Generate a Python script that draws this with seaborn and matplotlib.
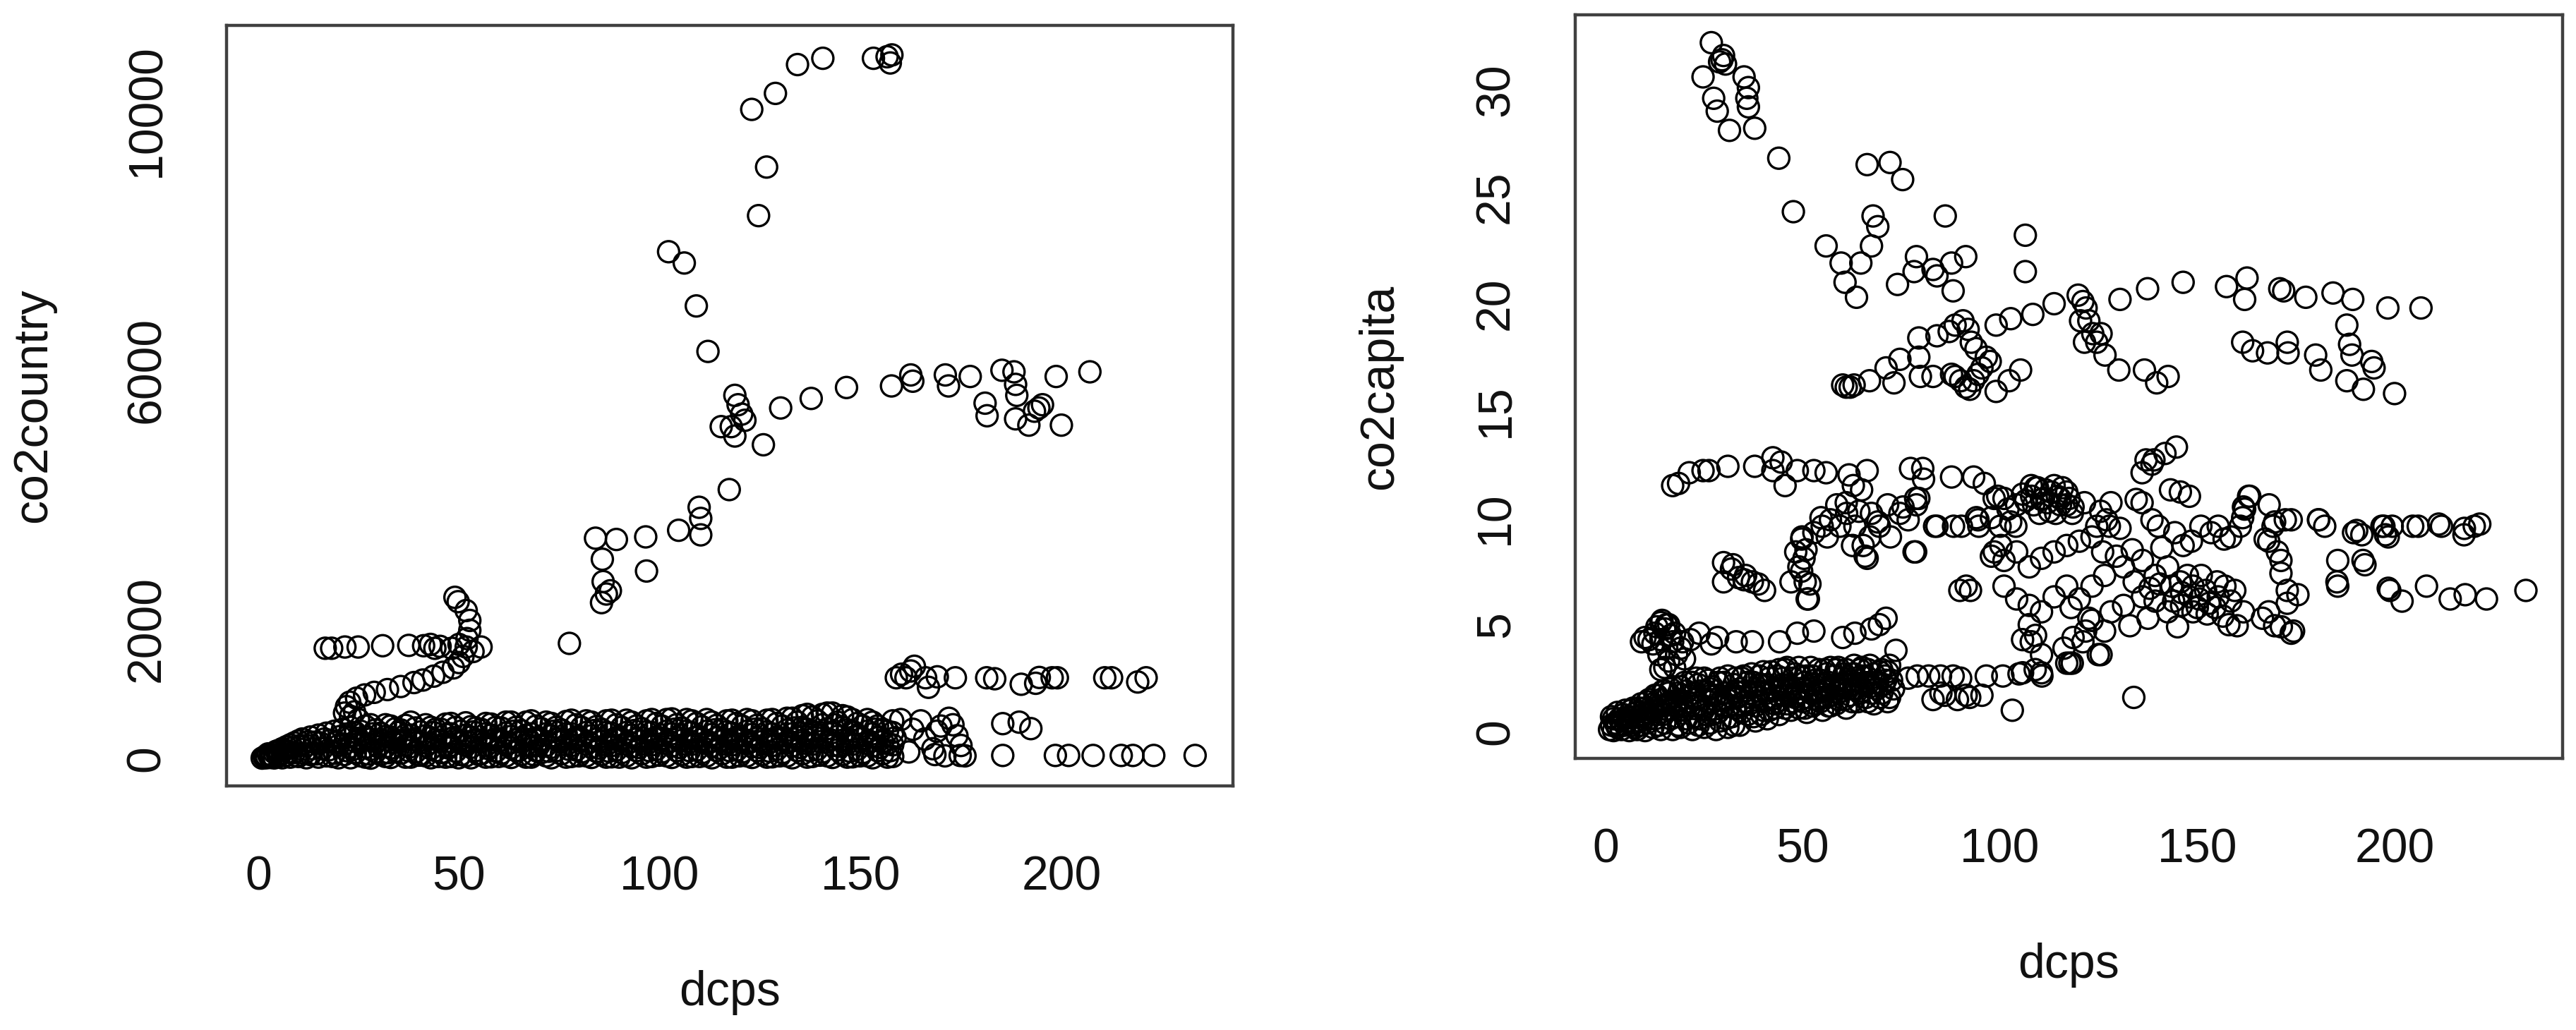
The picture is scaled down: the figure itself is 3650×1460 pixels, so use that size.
import pandas as pd
import matplotlib.pyplot as plt
import seaborn as sns

# ---- left panel: co2country vs dcps ----
country_upper = [(117.3, 4150), (122.9, 10019), (126.6, 9129), (124.6, 8379), (128.8, 10266),
                 (134.3, 10711), (140.6, 10808), (153.2, 10808), (156.6, 10832), (157.4, 10736),
                 (157.8, 10860), (102.2, 7822), (106.1, 7648), (109.1, 6985), (112.0, 6283)]
country_6000 = [(118.7, 5605), (120.4, 5315), (117.8, 5122), (115.3, 5122), (121.2, 5220),
                (119.5, 5460), (118.7, 4977), (125.8, 4842), (130.1, 5410), (137.7, 5557),
                (146.5, 5726), (157.7, 5750), (162.5, 5920), (163.0, 5823), (171.1, 5920),
                (171.9, 5750), (177.3, 5896), (185.2, 5992), (188.2, 5968), (188.6, 5774),
                (188.9, 5605), (181.0, 5484), (181.5, 5290), (188.6, 5242), (191.9, 5145),
                (194.4, 5410), (195.3, 5460), (193.3, 5360), (200.0, 5145), (198.7, 5896),
                (207.1, 5968)]
country_mid = [(109.8, 3877), (110.2, 3705), (110.2, 3451), (104.7, 3522), (96.5, 3420),
               (96.7, 2893), (84.0, 3400), (89.2, 3380), (85.7, 3075), (85.9, 2730),
               (86.7, 2538), (87.7, 2588), (85.5, 2405), (77.5, 1776)]
country_1750 = [(16.7, 1701), (18.3, 1701), (21.6, 1720), (24.9, 1720), (31.0, 1740),
                (37.5, 1745), (41.2, 1740), (42.9, 1760), (44.0, 1700), (45.3, 1730),
                (48.2, 1700), (50.0, 1760), (51.8, 1720), (55.5, 1720), (53.5, 1650),
                (49.0, 2487), (49.8, 2420), (51.8, 2283), (52.7, 2130), (52.7, 1978), (52.0, 1850),
                (21.5, 700), (22.0, 800), (22.8, 868), (24.5, 930), (26.5, 980), (28.9, 1020),
                (32.2, 1063), (35.5, 1110), (38.8, 1171), (41.0, 1210), (43.7, 1270),
                (46.0, 1330), (48.6, 1397), (51.0, 1575), (50.0, 1480), (23.0, 650),
                (24.0, 720), (25.0, 600)]
country_1250 = [(158.9, 1245), (161.3, 1245), (160.2, 1300), (163.4, 1423), (162.5, 1350),
                (166.2, 1245), (166.9, 1098), (169.1, 1260), (173.6, 1245), (181.4, 1245),
                (183.4, 1230), (190.0, 1145), (193.6, 1160), (194.5, 1250), (197.7, 1245),
                (199.0, 1245), (210.8, 1245), (212.5, 1245), (219.0, 1180), (221.1, 1245),
                (185.4, 537), (189.5, 560), (192.4, 460), (174.8, 46), (185.4, 46),
                (198.5, 46), (201.8, 46), (207.9, 46), (214.9, 46), (217.8, 46), (223.0, 46),
                (233.3, 46), (168.5, 60), (171.0, 40), (160.0, 600), (163.0, 450),
                (166.0, 300), (168.0, 150), (170.0, 500), (172.0, 620), (174.0, 350),
                (175.0, 200), (176.0, 40), (162.0, 100), (165.0, 580), (169.0, 420), (173.0, 520)]
country_wedge = [(1, 5), (1.5, 20), (2, 10), (2, 40), (3, 15), (3, 60), (4, 8), (4, 90),
                 (5, 30), (5, 120), (6, 10), (6, 150), (7, 50), (7, 180), (8, 20), (8, 210),
                 (9, 90), (9, 240), (10, 30), (10, 270), (11, 140), (11, 300), (12, 10),
                 (12, 200), (13, 330), (13, 60), (14, 250), (15, 20), (15, 360), (16, 150),
                 (17, 390), (17, 40), (18, 280), (19, 420), (19, 80), (20, 10), (20, 200),
                 (21, 450), (22, 120), (22, 330), (2.5, 70), (3.5, 35), (4.5, 110), (5.5, 60),
                 (6.5, 130), (7.5, 100), (8.5, 160), (9.5, 40), (10.5, 200), (11.5, 80),
                 (12.5, 260), (13.5, 150), (14.5, 70), (15.5, 240), (16.5, 300), (17.5, 130),
                 (18.5, 30), (19.5, 250), (20.5, 340), (21.5, 60), (21.5, 220)]
country_band = [(23, 10), (23, 180), (23, 330), (23, 480), (25.5, 40), (25.5, 250), (25.5, 420),
                (28, 5), (28, 140), (28, 300), (28, 520), (30.5, 60), (30.5, 220), (30.5, 390),
                (33, 15), (33, 160), (33, 330), (33, 500), (35.5, 80), (35.5, 260), (35.5, 440),
                (38, 20), (38, 180), (38, 360), (38, 560), (40.5, 50), (40.5, 240), (40.5, 410),
                (43, 10), (43, 150), (43, 320), (43, 480), (45.5, 90), (45.5, 270), (45.5, 450),
                (48, 30), (48, 200), (48, 380), (48, 540), (50.5, 60), (50.5, 240), (50.5, 420),
                (53, 10), (53, 170), (53, 330), (53, 490), (55.5, 70), (55.5, 260), (55.5, 450),
                (58, 25), (58, 190), (58, 360), (58, 530), (60.5, 80), (60.5, 280), (60.5, 470),
                (63, 15), (63, 160), (63, 340), (63, 560), (65.5, 60), (65.5, 250), (65.5, 430),
                (68, 20), (68, 190), (68, 380), (68, 580), (70.5, 90), (70.5, 290), (70.5, 460),
                (73, 10), (73, 170), (73, 350), (73, 540), (75.5, 70), (75.5, 260), (75.5, 440),
                (78, 30), (78, 200), (78, 380), (78, 590), (80.5, 100), (80.5, 300), (80.5, 480),
                (83, 15), (83, 170), (83, 350), (83, 560), (85.5, 60), (85.5, 260), (85.5, 450),
                (88, 25), (88, 200), (88, 390), (88, 590), (90.5, 90), (90.5, 300), (90.5, 480),
                (93, 10), (93, 180), (93, 360), (93, 560), (95.5, 70), (95.5, 270), (95.5, 460),
                (98, 30), (98, 210), (98, 400), (98, 600), (100.5, 100), (100.5, 310), (100.5, 500),
                (103, 15), (103, 190), (103, 380), (103, 610), (105.5, 60), (105.5, 280), (105.5, 470),
                (108, 30), (108, 220), (108, 400), (108, 580), (110.5, 90), (110.5, 300), (110.5, 490),
                (113, 10), (113, 190), (113, 370), (113, 560), (115.5, 70), (115.5, 270), (115.5, 450),
                (118, 20), (118, 210), (118, 390), (118, 590), (120.5, 100), (120.5, 300), (120.5, 500),
                (123, 15), (123, 180), (123, 370), (123, 580), (125.5, 60), (125.5, 260), (125.5, 460),
                (128, 25), (128, 200), (128, 380), (128, 600), (130.5, 90), (130.5, 300), (130.5, 500),
                (133, 10), (133, 190), (133, 380), (133, 620), (135.5, 70), (135.5, 280), (135.5, 480),
                (135.5, 660), (138, 30), (138, 220), (138, 420), (138, 640), (140.5, 100),
                (140.5, 320), (140.5, 520), (140.5, 680), (143, 15), (143, 200), (143, 400),
                (143, 700), (145.5, 60), (145.5, 280), (145.5, 480), (145.5, 660), (148, 25),
                (148, 220), (148, 420), (148, 600), (150.5, 90), (150.5, 310), (150.5, 500),
                (153, 10), (153, 190), (153, 380), (153, 560), (155.5, 70), (155.5, 260),
                (155.5, 450), (158, 30), (158, 210), (158, 400), (158, 580)]
country_band2 = [(24.2, 90), (24.2, 260), (24.2, 400), (26.7, 20), (26.7, 170), (26.7, 330), (26.7, 500),
                 (29.2, 100), (29.2, 260), (29.2, 440), (31.7, 30), (31.7, 180), (31.7, 340), (31.7, 520),
                 (34.2, 110), (34.2, 280), (34.2, 460), (36.7, 20), (36.7, 200), (36.7, 360), (36.7, 510),
                 (39.2, 100), (39.2, 280), (39.2, 470), (41.7, 40), (41.7, 190), (41.7, 350), (41.7, 520),
                 (44.2, 120), (44.2, 290), (44.2, 450), (46.7, 20), (46.7, 210), (46.7, 370), (46.7, 530),
                 (49.2, 110), (49.2, 300), (49.2, 480), (51.7, 40), (51.7, 200), (51.7, 360), (51.7, 550),
                 (54.2, 120), (54.2, 290), (54.2, 470), (56.7, 20), (56.7, 200), (56.7, 380), (56.7, 540),
                 (59.2, 110), (59.2, 300), (59.2, 480), (61.7, 40), (61.7, 210), (61.7, 390), (61.7, 560),
                 (64.2, 120), (64.2, 290), (64.2, 480), (66.7, 20), (66.7, 210), (66.7, 360), (66.7, 560),
                 (69.2, 120), (69.2, 310), (69.2, 500), (71.7, 40), (71.7, 200), (71.7, 380), (71.7, 560),
                 (74.2, 120), (74.2, 300), (74.2, 480), (76.7, 20), (76.7, 210), (76.7, 380), (76.7, 570),
                 (79.2, 130), (79.2, 320), (79.2, 520), (81.7, 40), (81.7, 220), (81.7, 400), (81.7, 580),
                 (84.2, 110), (84.2, 300), (84.2, 490), (86.7, 20), (86.7, 210), (86.7, 400), (86.7, 580),
                 (89.2, 130), (89.2, 320), (89.2, 520), (91.7, 40), (91.7, 220), (91.7, 400), (91.7, 590),
                 (94.2, 120), (94.2, 300), (94.2, 500), (96.7, 20), (96.7, 220), (96.7, 410), (96.7, 580),
                 (99.2, 140), (99.2, 330), (99.2, 540), (101.7, 40), (101.7, 230), (101.7, 420), (101.7, 600),
                 (104.2, 120), (104.2, 320), (104.2, 520), (106.7, 20), (106.7, 220), (106.7, 420),
                 (106.7, 600), (109.2, 130), (109.2, 330), (109.2, 540), (111.7, 40), (111.7, 230),
                 (111.7, 420), (111.7, 600), (114.2, 120), (114.2, 320), (114.2, 510), (116.7, 20),
                 (116.7, 220), (116.7, 410), (116.7, 580), (119.2, 130), (119.2, 330), (119.2, 540),
                 (121.7, 40), (121.7, 230), (121.7, 420), (121.7, 600), (124.2, 120), (124.2, 310),
                 (124.2, 510), (126.7, 20), (126.7, 220), (126.7, 410), (126.7, 590), (129.2, 140),
                 (129.2, 330), (129.2, 540), (131.7, 40), (131.7, 240), (131.7, 440), (131.7, 620),
                 (134.2, 120), (134.2, 330), (134.2, 560), (136.7, 20), (136.7, 230), (136.7, 450),
                 (136.7, 680), (139.2, 140), (139.2, 360), (139.2, 580), (141.7, 40), (141.7, 250),
                 (141.7, 460), (141.7, 700), (144.2, 130), (144.2, 340), (144.2, 560), (146.7, 20),
                 (146.7, 230), (146.7, 440), (146.7, 640), (149.2, 140), (149.2, 340), (149.2, 540),
                 (151.7, 40), (151.7, 230), (151.7, 420), (151.7, 600), (154.2, 120), (154.2, 320),
                 (154.2, 500), (156.7, 20), (156.7, 230), (156.7, 420)]
country_band3 = [(23.6, 140), (24.9, 310), (27.4, 70), (28.6, 380), (29.9, 180), (32.4, 90), (33.6, 250),
                 (34.9, 400), (37.4, 120), (38.6, 290), (39.9, 50), (42.4, 230), (43.6, 400), (44.9, 30),
                 (47.4, 160), (48.6, 320), (49.9, 10), (52.4, 260), (53.6, 410), (54.9, 60), (57.4, 150),
                 (58.6, 290), (59.9, 30), (62.4, 230), (63.6, 420), (64.9, 120), (67.4, 290), (68.6, 60),
                 (69.9, 200), (72.4, 110), (73.6, 420), (74.9, 260), (77.4, 140), (78.6, 300), (79.9, 40),
                 (82.4, 250), (83.6, 430), (84.9, 160), (87.4, 110), (88.6, 300), (89.9, 20), (92.4, 250),
                 (93.6, 430), (94.9, 170), (97.4, 120), (98.6, 310), (99.9, 50), (102.4, 260), (103.6, 450),
                 (104.9, 170), (107.4, 120), (108.6, 320), (109.9, 30), (112.4, 250), (113.6, 440),
                 (114.9, 160), (117.4, 120), (118.6, 300), (119.9, 40), (122.4, 250), (123.6, 450),
                 (124.9, 170), (127.4, 110), (128.6, 310), (129.9, 40), (132.4, 260), (133.6, 470),
                 (134.9, 170), (137.4, 120), (138.6, 330), (139.9, 50), (142.4, 290), (143.6, 520),
                 (144.9, 190), (147.4, 110), (148.6, 330), (149.9, 40), (152.4, 260), (153.6, 450),
                 (154.9, 170), (157.4, 120), (158.6, 320)]

# ---- right panel: co2capita vs dcps ----
capita_top = [(26.8, 32.2), (29.9, 31.6), (28.9, 31.3), (30.4, 31.2), (29.5, 31.4), (24.7, 30.6),
              (27.4, 29.6), (28.3, 29.0), (31.4, 28.1), (35.1, 30.6), (36.2, 30.1), (35.8, 29.6),
              (36.2, 29.2), (37.8, 28.2), (43.9, 26.8), (47.6, 24.3), (66.3, 26.5), (72.1, 26.6),
              (75.3, 25.8), (55.9, 22.7), (59.7, 21.9), (60.7, 21.0), (64.7, 21.9), (63.6, 20.3),
              (67.8, 24.1), (69.0, 23.6), (67.4, 22.7), (74.0, 20.9), (78.8, 22.2), (78.2, 21.5),
              (83.0, 21.6), (84.0, 21.3), (86.1, 24.1), (87.7, 21.9), (88.1, 20.6), (91.3, 22.2),
              (106.4, 23.2), (106.4, 21.5)]
capita_20 = [(130.4, 20.2), (137.4, 20.7), (146.4, 21.0), (157.4, 20.8), (162.6, 21.2),
             (162.0, 20.2), (170.9, 20.7), (171.9, 20.6), (177.5, 20.3), (184.4, 20.5),
             (189.4, 20.2), (198.3, 19.8), (206.7, 19.8), (161.5, 18.2), (164.0, 17.8),
             (167.8, 17.7), (172.8, 18.2), (173.0, 17.7), (180.0, 17.6), (181.3, 16.9),
             (187.9, 19.0), (188.6, 18.1), (189.2, 17.6), (187.9, 16.4), (192.1, 16.0),
             (194.2, 17.3), (194.8, 17.0), (200.0, 15.8), (130.1, 16.9), (136.6, 16.9),
             (139.7, 16.3), (142.6, 16.6)]
capita_17 = [(60.1, 16.2), (61.0, 16.1), (62.0, 16.1), (63.0, 16.2), (66.9, 16.4), (71.1, 17.0),
             (74.6, 17.4), (73.1, 16.3), (79.4, 17.5), (79.8, 16.6), (83.0, 16.6), (79.4, 18.4),
             (84.0, 18.5), (87.1, 18.7), (88.6, 19.0), (90.6, 19.2), (87.7, 16.7), (88.6, 16.6),
             (90.0, 16.4), (91.3, 16.1), (92.3, 16.0), (93.3, 16.4), (94.4, 16.7), (95.4, 17.0),
             (96.5, 17.5), (97.5, 17.3), (92.7, 18.2), (93.9, 17.9), (91.9, 18.8), (99.0, 19.0),
             (102.7, 19.3), (108.3, 19.5), (113.7, 20.0), (99.0, 15.9), (102.3, 16.4),
             (105.2, 16.9), (119.8, 20.4), (121.0, 20.1), (121.8, 19.8), (122.5, 19.2),
             (123.5, 18.6), (124.5, 18.2), (125.6, 18.6), (126.6, 17.6), (121.4, 18.2), (120.4, 19.2)]
capita_12 = [(17.0, 11.5), (18.5, 11.6), (21.2, 12.1), (24.7, 12.2), (26.2, 12.2), (31.0, 12.4),
             (37.8, 12.4), (42.4, 12.8), (44.5, 12.6), (45.5, 11.5), (42.4, 12.2), (48.6, 12.2),
             (52.8, 12.2), (55.9, 12.1), (61.7, 12.0), (62.8, 11.5), (66.3, 12.2), (64.9, 11.3),
             (77.3, 12.3), (80.4, 12.3), (80.6, 11.8), (87.7, 11.9), (93.3, 11.9), (96.0, 11.6)]
capita_10 = [(29.9, 7.9), (31.9, 7.6), (33.7, 7.2), (35.1, 7.1), (37.2, 7.0), (40.3, 6.6),
             (29.9, 7.0), (32.3, 7.8), (35.5, 7.3), (38.7, 6.9), (47.0, 7.0), (49.7, 7.5),
             (50.3, 8.1), (51.8, 6.9), (51.1, 6.2), (49.7, 9.0), (50.8, 8.5), (49.8, 9.1),
             (49.0, 7.7), (50.6, 7.0), (51.4, 6.2), (48.2, 8.4), (52.8, 9.3), (54.9, 9.6),
             (57.0, 9.9), (58.6, 10.6), (61.1, 10.2), (63.2, 9.6), (65.3, 8.7), (66.3, 8.1),
             (67.4, 10.2), (69.4, 9.6), (71.5, 10.6), (74.6, 10.2), (76.7, 9.9), (78.8, 10.6),
             (79.4, 10.9), (78.2, 8.4), (84.0, 9.6), (90.2, 9.6), (94.0, 10.0), (94.4, 9.9),
             (54.6, 10.0), (59.4, 9.6), (64.2, 10.3), (69.0, 9.8), (72.2, 9.1), (75.4, 10.5),
             (78.6, 10.9), (56.2, 9.1), (62.6, 8.7), (65.8, 8.2), (78.6, 8.4), (83.4, 9.6),
             (88.2, 9.6), (61.0, 10.7), (67.0, 9.1)]
capita_dense = [(98.5, 10.9), (101.0, 10.9), (102.0, 10.4), (102.7, 9.8), (100.0, 9.6), (100.2, 8.7),
                (98.5, 8.4), (104.0, 9.6), (107.9, 11.5), (109.5, 11.4), (111.0, 10.9), (113.0, 11.2),
                (115.2, 10.9), (116.9, 10.6), (114.1, 10.2), (118.3, 10.2), (110.0, 10.2), (112.5, 10.3),
                (109.0, 11.4), (113.7, 11.5), (116.9, 11.2), (110.5, 10.85), (115.3, 10.6), (118.5, 10.5),
                (105.7, 11.1), (104.2, 10.6), (99.4, 11.0), (97.8, 10.0), (94.6, 9.6), (89.8, 6.6),
                (91.4, 6.8), (92.5, 6.6), (121.4, 10.7), (124.5, 9.6), (125.5, 10.3), (127.7, 9.6),
                (130.4, 9.5), (128.1, 10.7), (127.0, 9.9), (137.0, 12.7), (139.0, 12.7), (141.8, 13.0),
                (144.7, 13.3), (136.0, 12.1), (138.5, 12.5), (134.5, 10.85), (145.7, 11.2), (148.0, 11.0),
                (143.2, 11.3), (136.0, 10.7), (138.5, 9.9), (140.1, 9.6), (144.3, 9.3), (146.4, 8.7),
                (148.5, 8.9), (150.9, 9.6), (153.5, 9.3), (156.8, 9.0), (160.9, 9.6), (162.0, 10.4),
                (163.0, 11.0), (161.5, 10.0), (168.2, 10.6), (169.2, 9.6), (172.3, 9.9), (173.8, 9.9),
                (167.2, 9.0), (170.3, 8.4), (155.3, 9.6), (158.5, 9.1), (161.7, 10.5), (163.3, 11.0),
                (169.6, 9.8), (168.1, 8.9), (171.2, 8.0), (171.2, 7.4), (172.8, 6.6), (172.8, 6.0),
                (168.1, 5.6), (169.6, 4.95), (174.4, 4.7), (166.5, 5.3), (173.8, 4.6), (171.3, 4.9),
                (175.5, 6.4), (180.7, 9.9), (182.3, 9.6), (189.6, 9.3), (191.7, 9.2), (197.3, 9.6),
                (199.4, 9.6), (197.7, 9.2), (204.6, 9.6), (206.0, 9.6), (211.9, 9.6), (217.7, 9.5),
                (220.2, 9.6), (211.2, 9.7), (217.6, 9.2), (221.6, 9.7), (180.8, 9.9), (185.6, 8.0),
                (185.6, 6.8), (192.0, 8.0), (190.4, 9.4), (196.8, 9.6), (198.4, 9.1), (185.4, 7.0),
                (192.5, 7.8), (198.8, 6.6), (201.9, 6.1), (208.1, 6.8), (214.1, 6.2), (217.9, 6.4),
                (223.3, 6.2), (233.3, 6.6), (198.4, 6.7), (97.8, 8.2), (101.0, 8.0), (104.2, 8.4),
                (107.4, 7.7), (110.5, 8.1), (113.7, 8.4), (116.9, 8.7), (120.1, 8.9), (123.3, 9.1),
                (101.0, 6.8), (104.2, 6.2), (107.4, 5.9), (110.5, 5.6), (107.4, 5.0), (109.0, 4.5),
                (105.7, 4.3), (110.5, 3.6), (117.7, 3.2), (124.9, 3.6), (118.5, 4.4), (121.7, 4.7),
                (131.3, 7.7), (136.1, 8.0), (139.3, 7.3), (142.5, 7.7), (145.7, 7.0), (148.9, 6.8),
                (152.1, 6.6), (155.3, 6.3), (158.5, 6.1), (161.7, 5.6), (160.1, 4.95), (148.9, 5.6),
                (142.5, 5.6), (139.3, 6.1), (136.1, 6.3), (131.3, 5.9), (128.1, 5.6), (132.9, 4.95),
                (126.5, 4.7), (123.3, 5.2), (120.1, 6.2), (123.3, 6.8), (126.5, 7.3), (116.9, 6.8),
                (113.7, 6.3), (118.0, 5.8), (150.5, 6.2), (153.0, 6.0), (146.0, 6.5), (144.0, 6.1),
                (151.0, 7.3), (157.0, 6.8), (134.0, 7.0), (129.5, 8.2), (133.5, 8.5), (141.0, 8.6),
                (126.0, 8.4), (137.5, 5.3), (145.0, 4.9), (116.2, 3.9), (125.6, 3.6), (122.5, 5.3),
                (121.0, 4.2), (106.5, 10.8), (108.5, 10.6), (111.5, 11.3), (114.5, 11.0), (117.5, 10.9),
                (112.0, 10.7), (108.0, 11.0), (115.8, 11.4), (146.0, 5.9), (148.0, 6.3), (150.0, 5.8),
                (152.5, 5.5), (154.5, 5.8), (156.5, 5.4), (158.0, 5.0), (147.5, 7.3), (143.5, 6.8),
                (140.5, 6.9), (138.0, 6.7), (155.0, 7.0), (159.5, 6.6)]
capita_low = [(9.1, 4.2), (10.0, 4.4), (14.3, 5.2), (15.4, 5.0), (17.5, 4.6), (19.5, 4.2), (21.5, 4.3),
              (23.7, 4.6), (26.8, 4.1), (28.4, 4.4), (33.1, 4.2), (37.2, 4.2), (44.1, 4.2), (48.6, 4.6),
              (52.8, 4.7), (60.1, 4.4), (63.2, 4.6), (67.4, 4.8), (69.4, 5.0), (71.1, 5.3), (73.6, 3.8),
              (12, 4.1), (12.5, 4.6), (13, 4.9), (14, 5.1), (15, 4.8), (16, 5.0), (14, 4.3), (15.5, 3.9),
              (17, 4.2), (13.5, 3.6), (16, 3.3), (17.5, 3.0), (18, 3.6), (19, 3.9), (15, 3.0), (14, 2.9),
              (20, 3.4), (11, 4.3), (16.5, 4.5), (76.7, 2.5), (79.0, 2.6), (81.9, 2.6), (84.9, 2.6),
              (88.1, 2.6), (90.0, 2.5), (96.5, 2.6), (100.7, 2.6), (83.0, 1.5), (86.0, 1.7), (89.2, 1.5),
              (92.3, 1.6), (95.4, 1.7), (103.1, 1.0), (133.9, 1.6), (104.8, 2.7), (108.9, 2.9),
              (110.6, 2.6), (107.9, 4.2), (118.3, 3.2), (85.0, 1.8), (91.4, 1.7), (105.7, 2.75),
              (110.5, 2.75), (116.9, 3.2)]
capita_base = [(1, 0.1), (1.5, 0.3), (2, 0.05), (2, 0.6), (3, 0.2), (3, 0.9), (4, 0.1), (4, 0.5),
               (5, 1.0), (5, 0.3), (6, 0.05), (6, 0.7), (7, 1.1), (7, 0.4), (8, 0.1), (8, 0.9),
               (9, 1.3), (9, 0.3), (10, 0.05), (10, 1.1), (11, 1.5), (11, 0.6), (12, 0.2), (12, 1.3),
               (13, 1.7), (13, 0.8), (14, 0.1), (14, 1.5), (15, 1.9), (15, 0.4), (16, 1.0), (16, 1.8),
               (17, 0.1), (17, 2.1), (18, 0.7), (18, 1.4), (19, 2.1), (19, 0.2), (20, 1.0), (20, 2.3),
               (21, 0.4), (21, 1.7), (22, 2.3), (22, 0.1), (23, 1.2), (23, 2.5), (24, 0.6), (24, 1.9),
               (25, 0.2), (25, 2.5), (26, 1.4), (26, 2.4), (27, 0.8), (27, 2.1), (28, 0.1), (28, 1.7),
               (29, 2.5), (29, 0.5), (30, 1.2), (30, 2.3), (31, 0.2), (31, 2.6), (32, 1.6), (32, 0.7),
               (33, 2.5), (33, 1.1), (34, 0.3), (34, 2.0), (35, 2.6), (35, 1.4), (36, 0.8), (36, 2.3),
               (37, 1.8), (37, 2.7), (38, 0.5), (38, 1.2), (39, 2.6), (39, 1.9), (40, 1.0), (40, 2.8),
               (41, 2.2), (41, 0.6), (42, 1.5), (42, 2.8), (43, 1.1), (43, 2.0), (44, 2.9), (44, 0.8),
               (45, 1.7), (45, 2.5), (46, 1.3), (46, 3.0), (47, 2.1), (47, 1.0), (48, 2.7), (48, 1.6),
               (49, 1.1), (49, 3.0), (50, 2.0), (50, 1.4), (51, 2.6), (51, 0.9), (52, 1.8), (52, 3.0),
               (53, 1.3), (53, 2.4), (54, 1.9), (54, 2.9), (55, 1.0), (55, 2.2), (56, 2.7), (56, 1.6),
               (57, 3.0), (57, 1.2), (58, 2.1), (58, 2.6), (59, 1.5), (59, 3.0), (60, 1.9), (60, 2.5),
               (61, 1.1), (61, 2.9), (62, 2.2), (62, 1.7), (63, 2.7), (63, 3.1), (64, 1.4), (64, 2.4),
               (65, 1.9), (65, 3.0), (66, 2.6), (66, 1.6), (67, 2.1), (67, 3.1), (68, 1.3), (68, 2.7),
               (69, 2.3), (70, 1.8), (70, 2.9), (71, 2.4), (72, 1.6), (72, 3.1), (73, 2.0)]
capita_base2 = [(1.5, 0.7), (2.5, 0.4), (3.5, 0.6), (4.5, 0.8), (5.5, 0.5), (6.5, 1.0), (7.5, 0.2),
                (7.5, 0.7), (8.5, 0.5), (8.5, 1.1), (9.5, 0.8), (10.5, 0.4), (10.5, 1.4), (11.5, 1.0),
                (12.5, 0.6), (12.5, 1.7), (13.5, 0.3), (13.5, 1.2), (14.5, 0.8), (14.5, 1.9), (15.5, 1.3),
                (16.5, 0.6), (16.5, 2.0), (17.5, 1.2), (18.5, 0.3), (18.5, 1.8), (19.5, 1.2), (20.5, 0.6),
                (20.5, 1.9), (21.5, 1.2), (22.5, 0.7), (22.5, 1.8), (23.5, 0.3), (23.5, 2.2), (24.5, 1.2),
                (25.5, 0.8), (25.5, 1.9), (26.5, 0.4), (26.5, 2.0), (27.5, 1.5), (28.5, 0.9), (28.5, 2.3),
                (29.5, 1.5), (30.5, 0.6), (30.5, 1.8), (31.5, 1.2), (32.5, 0.3), (32.5, 2.2), (33.5, 1.6),
                (34.5, 0.9), (34.5, 2.5), (35.5, 1.9), (36.5, 1.3), (37.5, 0.7), (37.5, 2.3), (38.5, 1.6),
                (39.5, 0.8), (39.5, 2.2), (40.5, 1.5), (41.5, 1.0), (41.5, 2.5), (42.5, 1.9), (43.5, 1.4),
                (43.5, 2.6), (44.5, 2.0), (45.5, 1.1), (45.5, 2.9), (46.5, 1.7), (47.5, 1.4), (47.5, 2.5),
                (48.5, 2.0), (49.5, 1.5), (49.5, 2.6), (50.5, 1.1), (50.5, 2.3), (51.5, 1.9), (52.5, 1.2),
                (52.5, 2.6), (53.5, 1.8), (54.5, 1.4), (54.5, 2.4), (55.5, 1.9), (55.5, 2.9), (56.5, 1.2),
                (56.5, 2.3), (57.5, 1.7), (58.5, 1.3), (58.5, 2.9), (59.5, 2.2), (60.5, 1.5), (60.5, 2.7),
                (61.5, 2.0), (62.5, 1.4), (62.5, 2.7), (63.5, 2.0), (64.5, 1.8), (64.5, 2.9), (65.5, 2.3),
                (66.5, 1.4), (66.5, 2.9), (67.5, 1.8), (68.5, 2.3), (69.5, 1.6), (69.5, 2.8), (70.5, 2.2),
                (71.5, 1.4), (71.5, 2.8), (72.5, 2.4)]
capita_base3 = [(2.8, 0.3), (4.8, 0.6), (6.8, 0.3), (8.8, 0.7), (10.8, 0.9), (12.8, 1.1), (14.8, 1.2),
                (16.8, 1.4), (18.8, 1.0), (20.8, 1.4), (22.8, 1.5), (24.8, 1.0), (26.8, 1.7),
                (28.8, 1.3), (30.8, 1.5), (32.8, 1.9), (34.8, 1.2), (36.8, 1.6), (38.8, 2.2),
                (40.8, 1.8), (42.8, 1.3), (44.8, 2.2), (46.8, 1.9), (48.8, 1.8), (50.8, 1.6),
                (52.8, 2.2), (54.8, 1.6), (56.8, 2.0), (58.8, 1.8), (60.8, 2.2), (62.8, 2.0),
                (64.8, 2.6), (66.8, 2.3), (68.8, 2.0), (70.8, 2.6)]


def to_df(*groups):
    pts = [p for g in groups for p in g]
    return pd.DataFrame(pts, columns=['dcps', 'value'])


country = to_df(country_upper, country_6000, country_mid, country_1750, country_1250,
                country_wedge, country_band, country_band2, country_band3)
capita = to_df(capita_top, capita_20, capita_17, capita_12, capita_10, capita_dense,
               capita_low, capita_base, capita_base2, capita_base3)

sns.set_style('white')
plt.rcParams['font.family'] = ['Liberation Sans', 'DejaVu Sans']

fig = plt.figure(figsize=(36.5, 14.6), dpi=100)
ax1 = fig.add_axes([0.0879, 0.2370, 0.3907, 0.7383])
ax2 = fig.add_axes([0.6115, 0.2637, 0.3833, 0.7219])


def r_plot(ax, df, ylabel, xlim, ylim, yticks, ylabels, xlab_y, ylab_x):
    sns.scatterplot(data=df, x='dcps', y='value', ax=ax, s=466, marker='o',
                    facecolors='none', edgecolor='black', linewidth=2.4)
    ax.set_xlim(*xlim)
    ax.set_ylim(*ylim)
    ax.set_xticks([0, 50, 100, 150, 200])
    ax.set_xticklabels(['0', '50', '100', '150', '200'])
    ax.set_yticks(yticks)
    ax.set_yticklabels(ylabels, rotation=90, va='center')
    ax.tick_params(direction='out', length=30, width=3.2, color='#404040',
                   labelsize=49, labelcolor='#111111')
    ax.tick_params(axis='x', pad=40)
    ax.tick_params(axis='y', pad=28)
    for sp in ax.spines.values():
        sp.set_visible(True)
        sp.set_color('#404040')
        sp.set_linewidth(3.2)
    ax.set_xlabel('dcps', fontsize=49, color='#111111')
    ax.set_ylabel(ylabel, fontsize=49, color='#111111')
    ax.xaxis.set_label_coords(0.5, xlab_y)
    ax.xaxis.label.set_va('center')
    ax.yaxis.set_label_coords(ylab_x, 0.5)
    ax.yaxis.label.set_va('center')
    ax.grid(False)


r_plot(ax1, country, 'co2country', (-7.9, 242.7), (-424, 11315),
       [0, 2000, 4000, 6000, 8000, 10000], ['0', '2000', '', '6000', '', '10000'],
       -0.272, -0.192)
r_plot(ax2, capita, 'co2capita', (-7.7, 242.6), (-1.25, 33.5),
       [0, 5, 10, 15, 20, 25, 30], ['0', '5', '10', '15', '20', '25', '30'],
       -0.278, -0.198)

fig.savefig('out.png', dpi=100, facecolor='white')
